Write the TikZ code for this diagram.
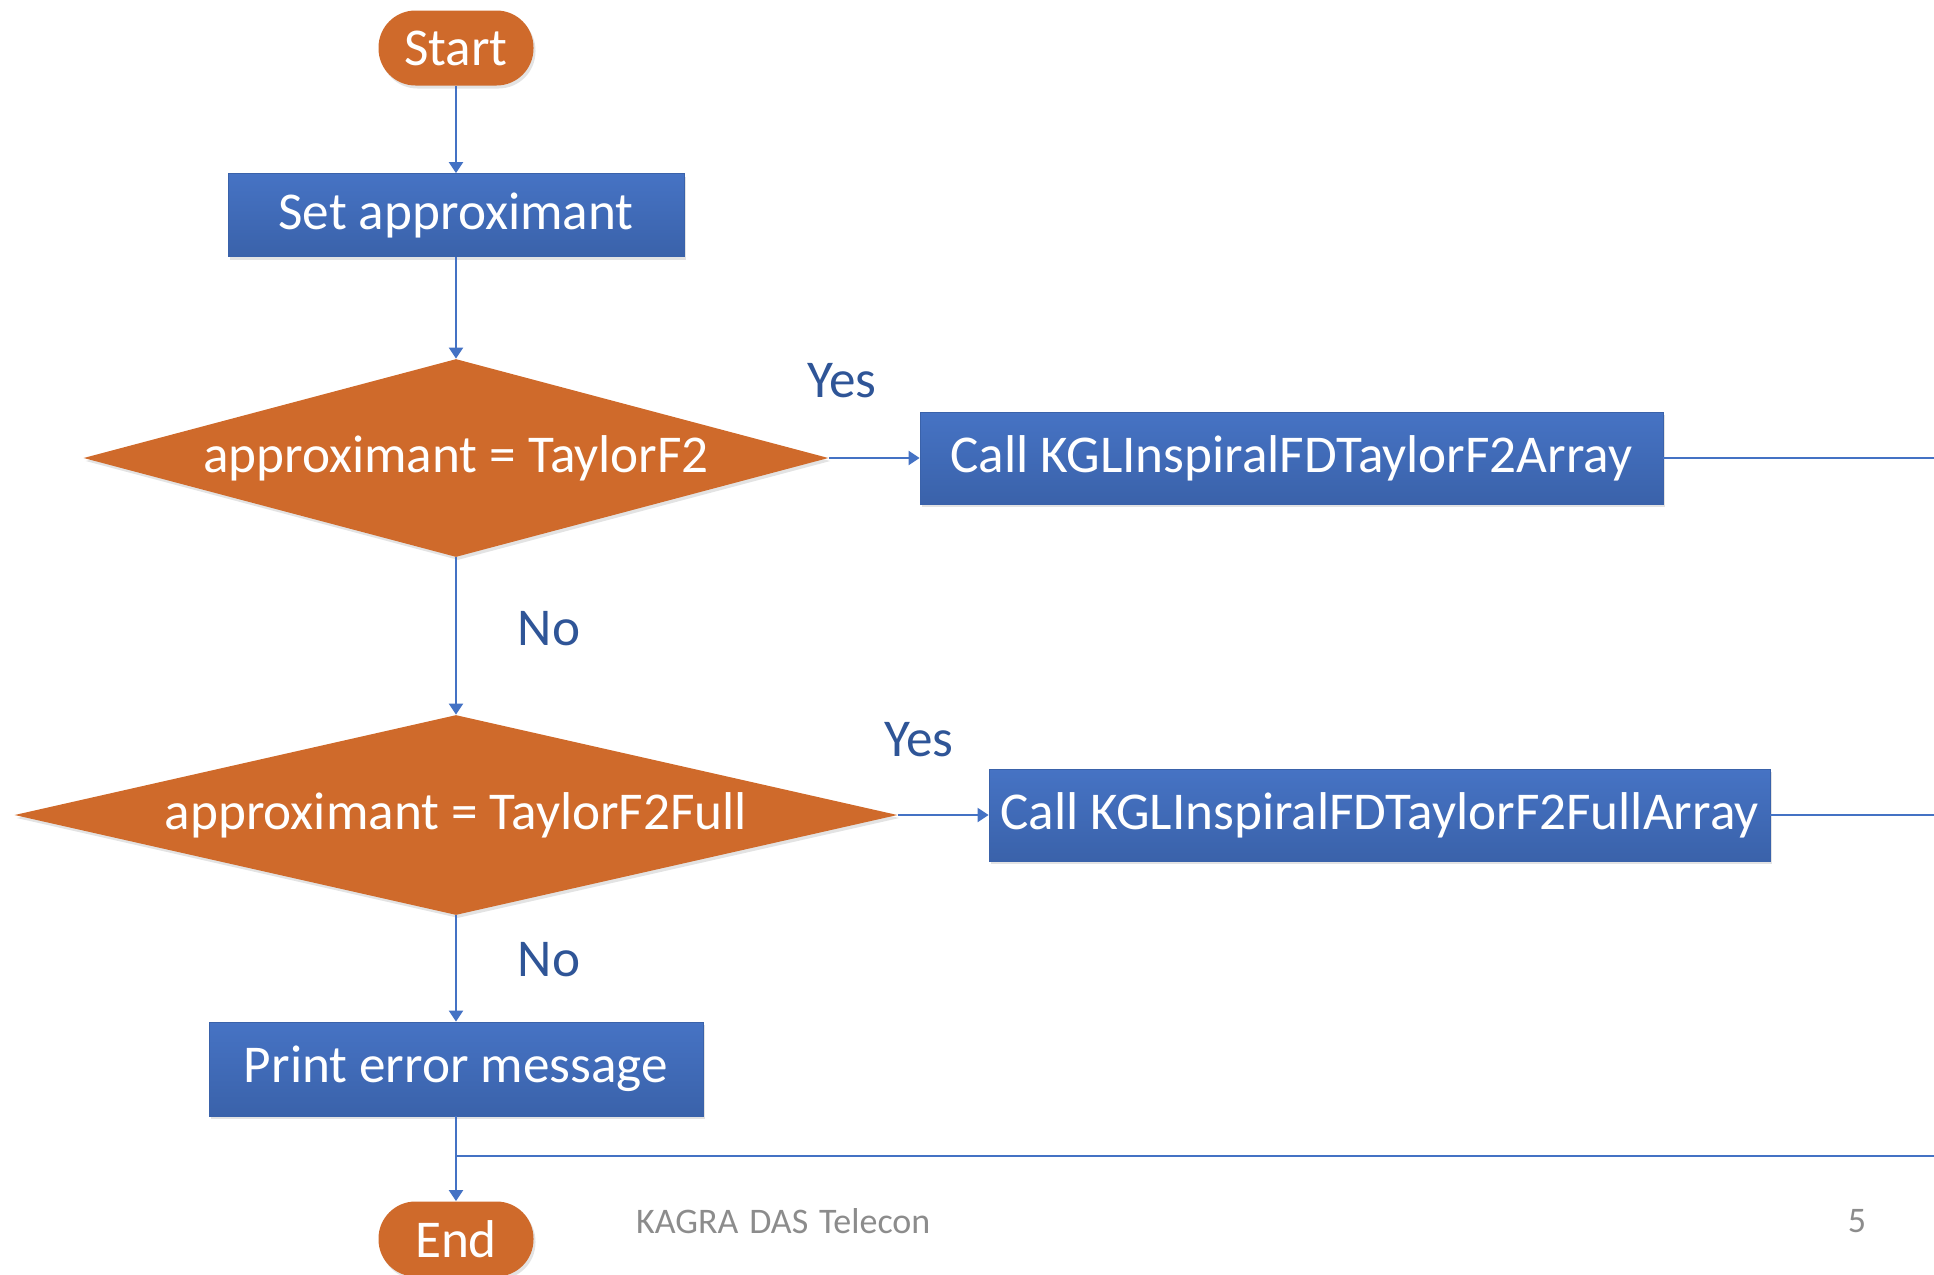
\documentclass[tikz,border=0pt]{standalone}
\usepackage{fontspec}
\setmainfont{Carlito}
\usetikzlibrary{arrows.meta,shapes.geometric,shadows}
\definecolor{orng}{HTML}{CF6A2B}
\definecolor{bluetop}{HTML}{4673C4}
\definecolor{bluebot}{HTML}{3A62AA}
\definecolor{lin}{HTML}{4472C4}
\definecolor{lbl}{HTML}{2F5597}
\definecolor{gry}{HTML}{8C8C8C}
\begin{document}
\begin{tikzpicture}[x=0.5pt,y=-0.5pt,
  big/.style={font=\fontsize{26.6}{30}\selectfont},
  shad/.style={drop shadow={opacity=0.22,shadow xshift=1pt,shadow yshift=-1.5pt}},
  term/.style={big,rectangle,rounded corners=18.5pt,fill=orng,text=white,
    minimum width=77.5pt,minimum height=37.5pt,inner sep=0pt,shad},
  proc/.style={big,rectangle,top color=bluetop,bottom color=bluebot,draw=bluebot,
    text=white,inner sep=0pt,shad},
  dec/.style={big,diamond,aspect=1,fill=orng,text=white,inner sep=0pt,shad},
  lab/.style={big,text=lbl},
  foot/.style={font=\fontsize{18}{22}\selectfont,text=gry},
  conn/.style={draw=lin,line width=1pt,-{Triangle[width=7pt,length=5.5pt]}},
  plainline/.style={draw=lin,line width=1pt}]
\useasboundingbox (0,0) rectangle (1934,1275);

\node[term] (start) at (456,48) {Start};
\node[proc,minimum width=228pt,minimum height=41.5pt] (set) at (456,215) {Set approximant};
\node[dec,minimum width=372.5pt,minimum height=99pt] (d1) at (456,458) {\makebox[0pt]{approximant = TaylorF2}};
\node[proc,minimum width=371.5pt,minimum height=46pt] (c1) at (1291.5,458) {Call KGLInspiralFDTaylorF2Array};
\node[dec,minimum width=441.5pt,minimum height=100pt] (d2) at (456,815) {\makebox[0pt]{approximant = TaylorF2Full}};
\node[proc,minimum width=390.5pt,minimum height=46pt] (c2) at (1379.5,815) {Call KGLInspiralFDTaylorF2FullArray};
\node[proc,minimum width=247pt,minimum height=47pt] (err) at (456,1069) {Print error message};
\node[term] (end) at (456,1239) {End};

\node[lab] (y1) at (842,381) {Yes};
\node[lab] (n1) at (549,629) {No};
\node[lab] (y2) at (919,740) {Yes};
\node[lab] (n2) at (549,960) {No};

\node[foot,anchor=west] (ft) at (629,1221) {KAGRA\hspace{0.3em}DAS\hspace{0.3em}Telecon};
\node[foot] (pg) at (1857,1221) {5};

\draw[conn] (start) -- (set);
\draw[conn] (set) -- (d1);
\draw[conn] (d1) -- (d2);
\draw[conn] (d2) -- (err);
\draw[conn] (err) -- (end);
\draw[conn] (d1.east) -- (c1.west);
\draw[conn] (d2.east) -- (c2.west);
\coordinate (r1) at (1934,458);
\coordinate (r2) at (1934,815);
\coordinate (j) at (456,1156);
\coordinate (r3) at (1934,1156);
\draw[plainline] (c1.east) -- (r1);
\draw[plainline] (c2.east) -- (r2);
\draw[plainline] (j) -- (r3);
\end{tikzpicture}
\end{document}
